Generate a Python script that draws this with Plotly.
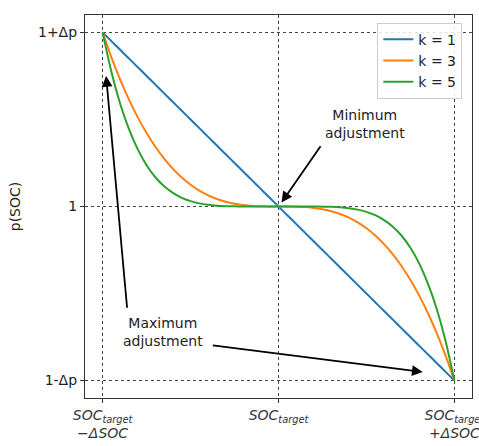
import plotly.graph_objects as go

# normalized SOC position: -1 = SOC_target-ΔSOC, 0 = SOC_target, +1 = SOC_target+ΔSOC
x_vals = [-1.0, -0.95, -0.9, -0.85, -0.8, -0.75, -0.7, -0.65, -0.6, -0.55, -0.5,
          -0.45, -0.4, -0.35, -0.3, -0.25, -0.2, -0.15, -0.1, -0.05, 0.0,
          0.05, 0.1, 0.15, 0.2, 0.25, 0.3, 0.35, 0.4, 0.45, 0.5,
          0.55, 0.6, 0.65, 0.7, 0.75, 0.8, 0.85, 0.9, 0.95, 1.0]
# normalized p(SOC): +1 = 1+Δp, 0 = 1, -1 = 1-Δp
p_k1 = [1.0, 0.95, 0.9, 0.85, 0.8, 0.75, 0.7, 0.65, 0.6, 0.55, 0.5,
        0.45, 0.4, 0.35, 0.3, 0.25, 0.2, 0.15, 0.1, 0.05, 0.0,
        -0.05, -0.1, -0.15, -0.2, -0.25, -0.3, -0.35, -0.4, -0.45, -0.5,
        -0.55, -0.6, -0.65, -0.7, -0.75, -0.8, -0.85, -0.9, -0.95, -1.0]
p_k3 = [1.0, 0.857, 0.729, 0.614, 0.512, 0.422, 0.343, 0.275, 0.216, 0.166, 0.125,
        0.091, 0.064, 0.043, 0.027, 0.016, 0.008, 0.003, 0.001, 0.0001, 0.0,
        -0.0001, -0.001, -0.003, -0.008, -0.016, -0.027, -0.043, -0.064, -0.091, -0.125,
        -0.166, -0.216, -0.275, -0.343, -0.422, -0.512, -0.614, -0.729, -0.857, -1.0]
p_k5 = [1.0, 0.774, 0.590, 0.444, 0.328, 0.237, 0.168, 0.116, 0.078, 0.050, 0.031,
        0.018, 0.010, 0.005, 0.002, 0.001, 0.0003, 0.0001, 0.0, 0.0, 0.0,
        0.0, 0.0, -0.0001, -0.0003, -0.001, -0.002, -0.005, -0.010, -0.018, -0.031,
        -0.050, -0.078, -0.116, -0.168, -0.237, -0.328, -0.444, -0.590, -0.774, -1.0]
series_names = ["k = 1", "k = 3", "k = 5"]
colors = ["#1f77b4", "#ff7f0e", "#2ca02c"]

x_tick_vals = [-1, 0, 1]
x_tick_text = ["<i>SOC</i><sub><i>target</i></sub><br><i>−ΔSOC</i>",
               "<i>SOC</i><sub><i>target</i></sub>",
               "<i>SOC</i><sub><i>target</i></sub><br><i>+ΔSOC</i>"]
y_tick_vals = [-1, 0, 1]
y_tick_text = ["1-Δp", "1", "1+Δp"]

fig = go.Figure()
for name, ys, c in zip(series_names, [p_k1, p_k3, p_k5], colors):
    fig.add_trace(go.Scatter(x=x_vals, y=ys, mode="lines", name=name,
                             line=dict(color=c, width=2, shape="spline", smoothing=0.8)))

FONT = "DejaVu Sans"
fig.update_layout(
    width=479, height=446,
    margin=dict(l=85, r=7, t=15, b=48),
    plot_bgcolor="white", paper_bgcolor="white",
    font=dict(family=FONT, size=14, color="#222"),
    showlegend=True,
    legend=dict(x=0.975, y=0.98, xanchor="right", yanchor="top",
                bgcolor="rgba(255,255,255,0.85)", bordercolor="#ccc", borderwidth=1,
                font=dict(family=FONT, size=14, color="#222"),
                tracegroupgap=0, itemwidth=30),
    xaxis=dict(range=[-1.1, 1.1], tickvals=x_tick_vals, ticktext=x_tick_text,
               automargin=False, ticklabeloverflow="allow",
               showgrid=True, gridcolor="#444", griddash="dot", gridwidth=0.8,
               zeroline=False, showline=True, mirror=True, linecolor="#333", linewidth=1.2,
               ticks="outside", ticklen=4, tickcolor="#333",
               tickfont=dict(family=FONT, size=14, color="#333")),
    yaxis=dict(range=[-1.1, 1.1], tickvals=y_tick_vals, ticktext=y_tick_text,
               automargin=False,
               showgrid=True, gridcolor="#444", griddash="dot", gridwidth=0.8,
               zeroline=False, showline=True, mirror=True, linecolor="#333", linewidth=1.2,
               ticks="outside", ticklen=4, tickcolor="#333",
               tickfont=dict(family=FONT, size=14, color="#222"),
               title=dict(text="p(SOC)", font=dict(family=FONT, size=14, color="#222"),
                          standoff=14)),
)

# text labels
fig.add_annotation(x=0.49, y=0.476, xref="x", yref="y", text="Minimum<br>adjustment",
                   showarrow=False, font=dict(family=FONT, size=14, color="#222"))
fig.add_annotation(x=-0.655, y=-0.722, xref="x", yref="y", text="Maximum<br>adjustment",
                   showarrow=False, font=dict(family=FONT, size=14, color="#222"))
# arrows
arrows = [
    (0.017, 0.023, 0.245, 0.355),
    (-0.98, 0.75, -0.86, -0.59),
    (0.82, -0.951, -0.382, -0.797),
]
for tx, ty, sx, sy in arrows:
    fig.add_annotation(x=tx, y=ty, ax=sx, ay=sy, xref="x", yref="y", axref="x", ayref="y",
                       text="", showarrow=True, arrowhead=2, arrowsize=1.2,
                       arrowwidth=1.8, arrowcolor="black")

fig.write_html("out.html", config={"displayModeBar": False},
               post_script="document.body.style.margin='0';document.body.style.overflow='hidden';")
